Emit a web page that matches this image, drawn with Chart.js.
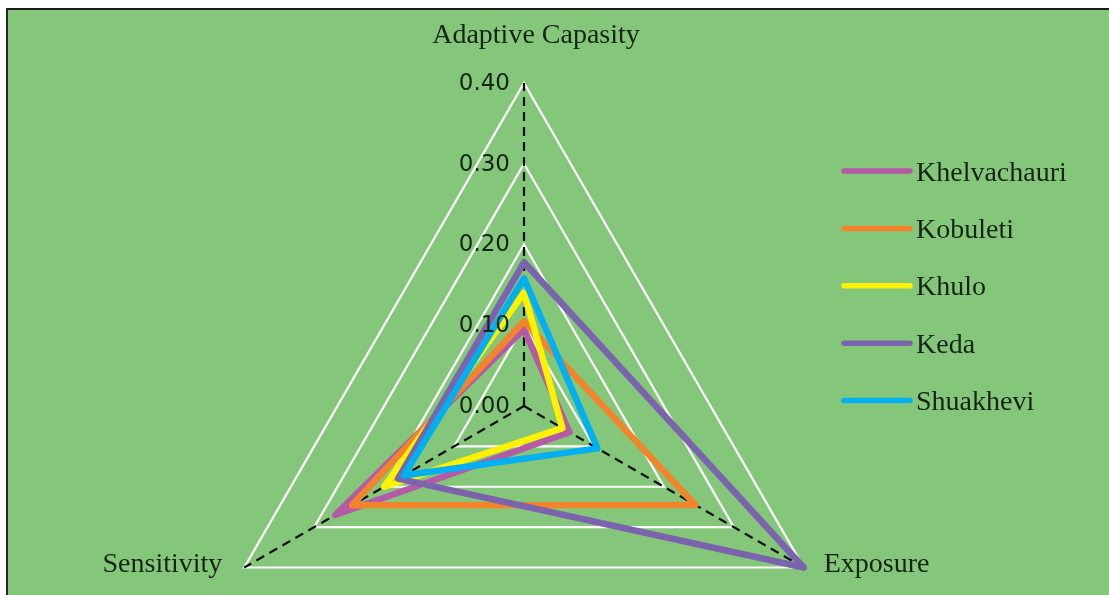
<!DOCTYPE html>
<html>
<head>
<meta charset="utf-8">
<title>Vulnerability components by municipality</title>
<script src="https://cdn.jsdelivr.net/npm/chart.js@4/dist/chart.umd.min.js"></script>
<style>
  html, body { margin: 0; padding: 0; background: #ffffff; overflow: hidden; }
  #frame {
    position: absolute; left: 6px; top: 8px;
    border-top: 2px solid #1d191d; border-left: 2px solid #2a262a;
  }
  #chart { display: block; background: #85c77a; }
</style>
</head>
<body>
<div id="frame"><canvas id="chart" width="1101" height="585"></canvas></div>
<script>
// Radar axes (clockwise from the top)
const axes = ['Adaptive Capasity', 'Exposure', 'Sensitivity'];

// Municipalities and their component scores
const municipalities = ['Khelvachauri', 'Kobuleti', 'Khulo', 'Keda', 'Shuakhevi'];
const khelvachauri = [0.095, 0.065, 0.27];
const kobuleti     = [0.105, 0.245, 0.246];
const khulo        = [0.14, 0.055, 0.20];
const keda         = [0.178, 0.40, 0.18];
const shuakhevi    = [0.158, 0.105, 0.172];

// Radial axis ticks
const tickValues = [0.00, 0.10, 0.20, 0.30, 0.40];

const seriesValues = [khelvachauri, kobuleti, khulo, keda, shuakhevi];
const seriesColors = ['#b55aa6', '#f2852c', '#fff200', '#7b63ad', '#00b0f0'];

// Plot geometry: web centre and outer radius on the canvas
const webCenter = { x: 516, y: 396 };
const webRadius = 323;

const textColor = '#152415';
const serif = '"Liberation Serif", "Times New Roman", serif';
const sans = '"DejaVu Sans", Verdana, sans-serif';

// Tick labels, right-aligned just left of the vertical axis
const tickLabelPlugin = {
  id: 'tickLabels',
  afterDatasetsDraw(chart) {
    const scale = chart.scales.r;
    const ctx = chart.ctx;
    ctx.save();
    ctx.font = '23px ' + sans;
    ctx.fillStyle = textColor;
    ctx.textAlign = 'right';
    ctx.textBaseline = 'middle';
    tickValues.forEach(v => {
      const d = scale.getDistanceFromCenterForValue(v);
      ctx.fillText(v.toFixed(2), scale.xCenter - 14, scale.yCenter - d + 1);
    });
    ctx.restore();
  }
};

// Axis titles placed beside each spoke end
const axisTitlePlugin = {
  id: 'axisTitles',
  afterDraw(chart) {
    const scale = chart.scales.r;
    const ctx = chart.ctx;
    ctx.save();
    ctx.font = '28px ' + serif;
    ctx.fillStyle = textColor;
    ctx.textBaseline = 'alphabetic';
    axes.forEach((label, i) => {
      const p = scale.getPointPosition(i, scale.drawingArea);
      if (i === 0) {
        ctx.textAlign = 'center';
        ctx.fillText(label, p.x + 12, p.y - 40);
      } else if (p.x > scale.xCenter) {
        ctx.textAlign = 'left';
        ctx.fillText(label, p.x + 20, p.y + 4);
      } else {
        ctx.textAlign = 'right';
        ctx.fillText(label, p.x - 22, p.y + 4);
      }
    });
    ctx.restore();
  }
};

// Legend: one stroke sample and name per series, stacked on the right
const sideLegendPlugin = {
  id: 'sideLegend',
  afterDraw(chart) {
    const ctx = chart.ctx;
    const x0 = 836, x1 = 902, top = 161, step = 57.4;
    ctx.save();
    chart.data.datasets.forEach((ds, i) => {
      const y = top + i * step;
      ctx.strokeStyle = ds.borderColor;
      ctx.lineWidth = 5.5;
      ctx.lineCap = 'round';
      ctx.beginPath();
      ctx.moveTo(x0, y);
      ctx.lineTo(x1, y);
      ctx.stroke();
      ctx.font = '28px ' + serif;
      ctx.fillStyle = textColor;
      ctx.textAlign = 'left';
      ctx.textBaseline = 'alphabetic';
      ctx.fillText(ds.label, x1 + 6, y + 9.5);
    });
    ctx.restore();
  }
};

new Chart(document.getElementById('chart'), {
  type: 'radar',
  data: {
    labels: axes,
    datasets: municipalities.map((name, i) => ({
      label: name,
      data: seriesValues[i],
      borderColor: seriesColors[i],
      backgroundColor: 'transparent',
      borderWidth: 6.5,
      borderJoinStyle: 'round',
      borderCapStyle: 'round',
      fill: false,
      pointRadius: 0,
      pointHoverRadius: 0,
      order: municipalities.length - i
    }))
  },
  options: {
    responsive: false,
    animation: false,
    events: [],
    plugins: {
      legend: { display: false },
      tooltip: { enabled: false }
    },
    scales: {
      r: {
        min: 0,
        max: 0.4,
        ticks: { stepSize: 0.1, display: false },
        pointLabels: { display: false },
        grid: { color: '#ffffff', lineWidth: 2.2 },
        angleLines: { color: '#111111', lineWidth: 2.2, borderDash: [9, 6] },
        afterFit(scale) {
          scale.xCenter = webCenter.x;
          scale.yCenter = webCenter.y;
          scale.drawingArea = webRadius;
        }
      }
    }
  },
  plugins: [tickLabelPlugin, axisTitlePlugin, sideLegendPlugin]
});
</script>
</body>
</html>
